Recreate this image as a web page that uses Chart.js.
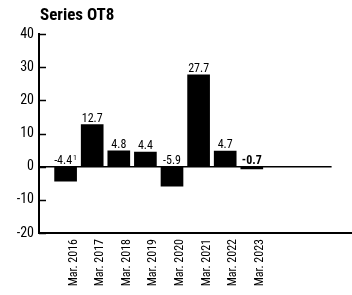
<!DOCTYPE html>
<html lang="en">
  <head>
    <meta charset="UTF-8" />
    <title>Series OT8</title>
    <style>
      body {
        margin: 0;
        background: #fff;
      }
    </style>
  </head>
  <body>
    <canvas id="chart" width="352" height="295"></canvas>

    <script src="https://cdn.jsdelivr.net/npm/chart.js"></script>
    <script>
      const categories = ["Mar. 2016", "Mar. 2017", "Mar. 2018", "Mar. 2019", "Mar. 2020", "Mar. 2021", "Mar. 2022", "Mar. 2023"];
      const values = [-4.4, 12.7, 4.8, 4.4, -5.9, 27.7, 4.7, -0.7];
      const valueNotes = ["1", "", "", "", "", "", "", ""];
      const yTicks = [40, 30, 20, 10, 0, -10, -20];

      const FONT = "'Roboto Condensed', 'DejaVu Sans', sans-serif";

      // one empty slot before and three after the real categories
      const labels = [""].concat(categories, ["", "", ""]);
      const data = [null].concat(values, [null, null, null]);

      const decorations = {
        id: "decorations",
        afterDraw(chart) {
          const ctx = chart.ctx;
          const area = chart.chartArea;
          const y = chart.scales.y;
          ctx.save();
          ctx.strokeStyle = "#000";
          ctx.fillStyle = "#000";

          // inward tick marks on the value axis
          ctx.lineWidth = 1.5;
          yTicks.forEach((t) => {
            const py = Math.round(y.getPixelForValue(t)) + 0.5;
            ctx.beginPath();
            ctx.moveTo(area.left, py);
            ctx.lineTo(area.left + 7, py);
            ctx.stroke();
          });

          // bottom line runs to the canvas edge
          ctx.lineWidth = 2;
          ctx.beginPath();
          ctx.moveTo(area.left - 1, area.bottom);
          ctx.lineTo(chart.width, area.bottom);
          ctx.stroke();

          // title
          ctx.font = "bold 17px " + FONT;
          ctx.textAlign = "left";
          ctx.textBaseline = "alphabetic";
          ctx.fillText("Series OT8", 40, 20);

          // value labels
          const zero = y.getPixelForValue(0);
          const meta = chart.getDatasetMeta(0);
          meta.data.forEach((bar, i) => {
            const v = data[i];
            if (v === null) return;
            const k = i - 1;
            const text = v.toFixed(1);
            const note = valueNotes[k];
            const bold = k === values.length - 1;
            const f = (bold ? "bold " : "") + "12px " + FONT;
            ctx.font = f;
            const w = ctx.measureText(text).width;
            ctx.font = "8px " + FONT;
            const nw = note ? ctx.measureText(note).width + 1 : 0;
            const top = (v >= 0 ? bar.y : zero) - 3;
            const x0 = bar.x - (w + nw) / 2;
            ctx.font = f;
            ctx.textAlign = "left";
            ctx.textBaseline = "alphabetic";
            ctx.fillText(text, x0, top);
            if (note) {
              ctx.font = "8px " + FONT;
              ctx.fillText(note, x0 + w + 1, top - 4);
            }
          });
          ctx.restore();
        },
      };

      const chart = new Chart(document.getElementById("chart"), {
        type: "bar",
        data: {
          labels: labels,
          datasets: [
            {
              data: data,
              backgroundColor: "#000",
              borderWidth: 0,
              barThickness: 22,
            },
          ],
        },
        options: {
          responsive: false,
          animation: false,
          layout: { padding: { top: 34, right: 7, left: 0, bottom: 0 } },
          plugins: {
            legend: { display: false },
            tooltip: { enabled: false },
          },
          scales: {
            x: {
              offset: false,
              grid: { display: false, offset: false, drawTicks: false },
              border: { display: false },
              ticks: {
                autoSkip: false,
                minRotation: 90,
                maxRotation: 90,
                labelOffset: 8,
                padding: 6,
                color: "#000",
                font: { family: FONT, size: 12 },
              },
              afterFit(scale) {
                scale.height = 62;
              },
            },
            y: {
              min: -20,
              max: 40,
              afterBuildTicks(scale) {
                scale.ticks = yTicks.map((v) => ({ value: v }));
              },
              grid: {
                drawTicks: false,
                lineWidth: 1.5,
                color: (c) => (c.tick && c.tick.value === 0 ? "#000" : "rgba(0,0,0,0)"),
              },
              border: { display: true, color: "#000", width: 2 },
              ticks: {
                padding: 5,
                color: "#000",
                font: { family: FONT, size: 14 },
              },
              afterFit(scale) {
                scale.width = 39;
              },
            },
          },
        },
        plugins: [decorations],
      });
    </script>
  </body>
</html>
